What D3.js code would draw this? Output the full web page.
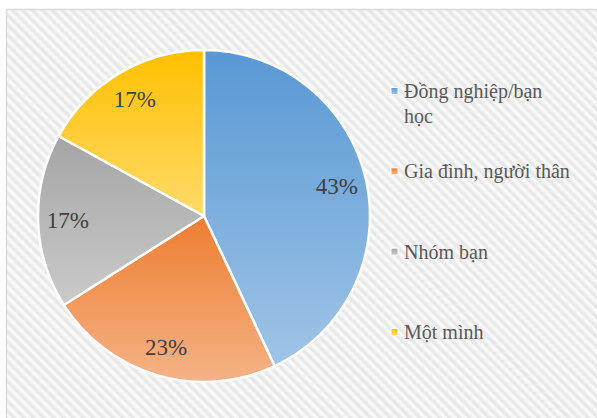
<!DOCTYPE html>
<html>
<head>
<meta charset="utf-8">
<script src="https://cdn.jsdelivr.net/npm/d3@7"></script>
<style>
  body { margin: 0; background: #fff; }
  svg { display: block; }
  svg text { font-family: "Times New Roman", "Liberation Serif", "DejaVu Serif", serif; }
</style>
</head>
<body>
<div id="chartArea"></div>
<script>
// data
const categories = ["Đồng nghiệp/bạn học", "Gia đình, người thân", "Nhóm bạn", "Một mình"];
const shares = [43, 23, 17, 17];
const topColors = ["#5898D4", "#ED7D31", "#A5A5A5", "#FFC000"];
const bottomColors = ["#A0C4E7", "#F5B387", "#CACACA", "#FFDA6A"];

const W = 597, H = 418;
const svg = d3.select("#chartArea").append("svg")
    .attr("width", W)
    .attr("height", H);

const defs = svg.append("defs");

// diagonal hatch for the chart area
const hatch = defs.append("pattern")
    .attr("id", "hatch")
    .attr("patternUnits", "userSpaceOnUse")
    .attr("width", 7)
    .attr("height", 7)
    .attr("patternTransform", "rotate(-45)");
hatch.append("rect").attr("width", 7).attr("height", 7).attr("fill", "#F8F8F8");
hatch.append("rect").attr("width", 3.5).attr("height", 7).attr("fill", "#E8E8E8");

// one vertical gradient per slice
categories.forEach((c, i) => {
    const g = defs.append("linearGradient")
        .attr("id", "grad" + i)
        .attr("x1", 0).attr("y1", 0).attr("x2", 0).attr("y2", 1);
    g.append("stop").attr("offset", "0%").attr("stop-color", topColors[i]);
    g.append("stop").attr("offset", "100%").attr("stop-color", bottomColors[i]);
});

svg.append("rect")
    .attr("x", 6.5).attr("y", 9.5)
    .attr("width", W).attr("height", H)
    .attr("fill", "url(#hatch)")
    .attr("stroke", "#D9D9D9")
    .attr("stroke-width", 1.5);

// pie
const cx = 204, cy = 216, r = 166;
const data = categories.map((c, i) => ({ name: c, value: shares[i], i }));
const pie = d3.pie().value(d => d.value).sort(null);
const arc = d3.arc().innerRadius(0).outerRadius(r);
const labelArc = d3.arc().innerRadius(r * 0.82).outerRadius(r * 0.82);

const g = svg.append("g").attr("transform", `translate(${cx},${cy})`);
const arcs = pie(data);

g.selectAll("path")
    .data(arcs)
    .enter().append("path")
    .attr("d", arc)
    .attr("fill", d => `url(#grad${d.data.i})`)
    .attr("stroke", "#fff")
    .attr("stroke-width", 2.5)
    .attr("stroke-linejoin", "round");

g.selectAll("text.pct")
    .data(arcs)
    .enter().append("text")
    .attr("class", "pct")
    .attr("transform", d => `translate(${labelArc.centroid(d)})`)
    .attr("text-anchor", "middle")
    .attr("dy", "0.35em")
    .attr("font-size", 23)
    .attr("fill", "#404040")
    .text(d => d.data.value + "%");

// legend
const legendX = 391;
const legendY = d3.scalePoint().domain(categories).range([91, 332]);

const legend = svg.append("g");
const item = legend.selectAll("g")
    .data(data)
    .enter().append("g")
    .attr("transform", d => `translate(${legendX},${legendY(d.name)})`);

item.append("rect")
    .attr("x", 0).attr("y", -3.5)
    .attr("width", 7).attr("height", 7)
    .attr("fill", d => `url(#grad${d.i})`)
    .attr("stroke", "#fff")
    .attr("stroke-width", 1);

const label = item.append("text")
    .attr("x", 13)
    .attr("y", 7)
    .attr("font-size", 20)
    .attr("fill", "#595959");

// first entry wraps onto two lines
label.each(function (d) {
    const lines = d.name === "Đồng nghiệp/bạn học" ? ["Đồng nghiệp/bạn", "học"] : [d.name];
    lines.forEach((t, k) => {
        d3.select(this).append("tspan")
            .attr("x", 13)
            .attr("dy", k === 0 ? 0 : 24.5)
            .text(t);
    });
});
</script>
</body>
</html>
